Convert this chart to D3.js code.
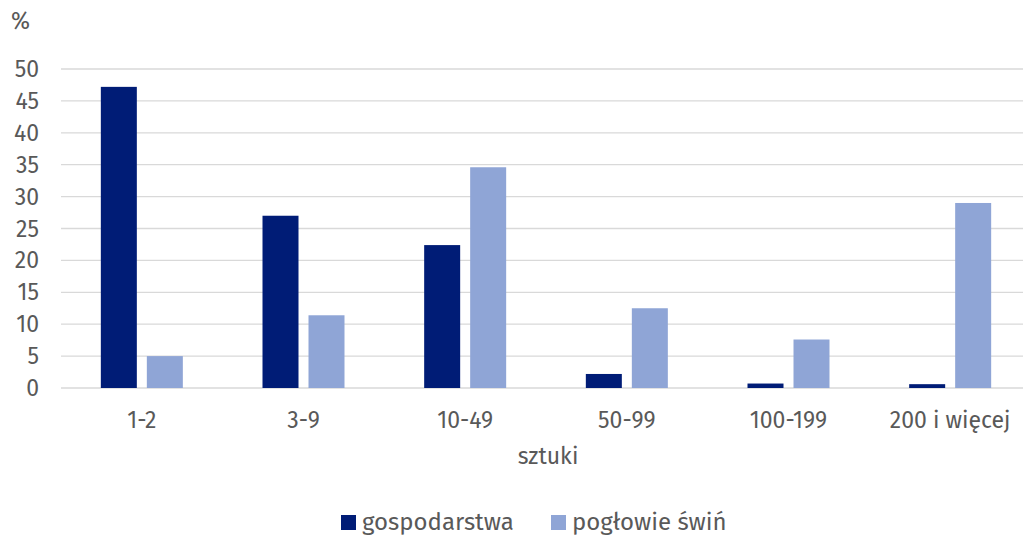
<!DOCTYPE html>
<html><head><meta charset="utf-8">
<script src="https://cdn.jsdelivr.net/npm/d3@7/dist/d3.min.js"></script>
<style>body{margin:0;background:#fff}svg{display:block}text{font-family:"Fira Sans","Open Sans","Noto Sans",sans-serif;fill:#595959}</style>
</head><body><svg id="c" width="1023" height="535"></svg>
<script>
const categories = ["1-2","3-9","10-49","50-99","100-199","200 i więcej"];
const seriesNames = ["gospodarstwa","pogłowie świń"];
const gospodarstwa = [47.2, 27.0, 22.4, 2.2, 0.7, 0.6];
const poglowie = [5.0, 11.4, 34.6, 12.5, 7.6, 29.0];
const yTicks = [0,5,10,15,20,25,30,35,40,45,50];
const colors = ["#001c76","#8fa5d6"];

const svg = d3.select("#c");
const x = d3.scaleBand().domain(categories).range([61,1031]);
const y = d3.scaleLinear().domain([0,50]).range([388,69]);
const bw = 36, gap = 10;

svg.append("g").selectAll("line").data(yTicks).join("line")
  .attr("x1",61).attr("x2",1023).attr("y1",d=>y(d)).attr("y2",d=>y(d))
  .attr("stroke","#d9d9d9").attr("stroke-width",1.3);

svg.append("g").selectAll("text").data(yTicks).join("text")
  .attr("x",39).attr("y",d=>y(d)).attr("dy","0.35em").attr("text-anchor","end")
  .attr("font-size",23).text(d=>d);

svg.append("text").attr("x",11).attr("y",29).attr("font-size",23).text("%");

const series = [gospodarstwa, poglowie];
series.forEach((vals,si)=>{
  svg.append("g").selectAll("rect").data(categories).join("rect")
    .attr("x",(c)=>x(c)+x.bandwidth()/2 - (bw+gap/2) + si*(bw+gap))
    .attr("width",bw)
    .attr("y",(c,i)=>y(vals[i]))
    .attr("height",(c,i)=>y(0)-y(vals[i]))
    .attr("fill",colors[si]);
});

svg.append("g").selectAll("text").data(categories).join("text")
  .attr("x",c=>x(c)+x.bandwidth()/2).attr("y",428).attr("text-anchor","middle")
  .attr("font-size",23).text(c=>c);

svg.append("text").attr("x",548).attr("y",464).attr("text-anchor","middle").attr("font-size",23).text("sztuki");

const leg = [{x:341},{x:551}];
seriesNames.forEach((n,i)=>{
  svg.append("rect").attr("x",leg[i].x).attr("y",515).attr("width",15).attr("height",15).attr("fill",colors[i]);
  svg.append("text").attr("x",leg[i].x+21).attr("y",530).attr("font-size",24).text(n);
});
</script></body></html>
